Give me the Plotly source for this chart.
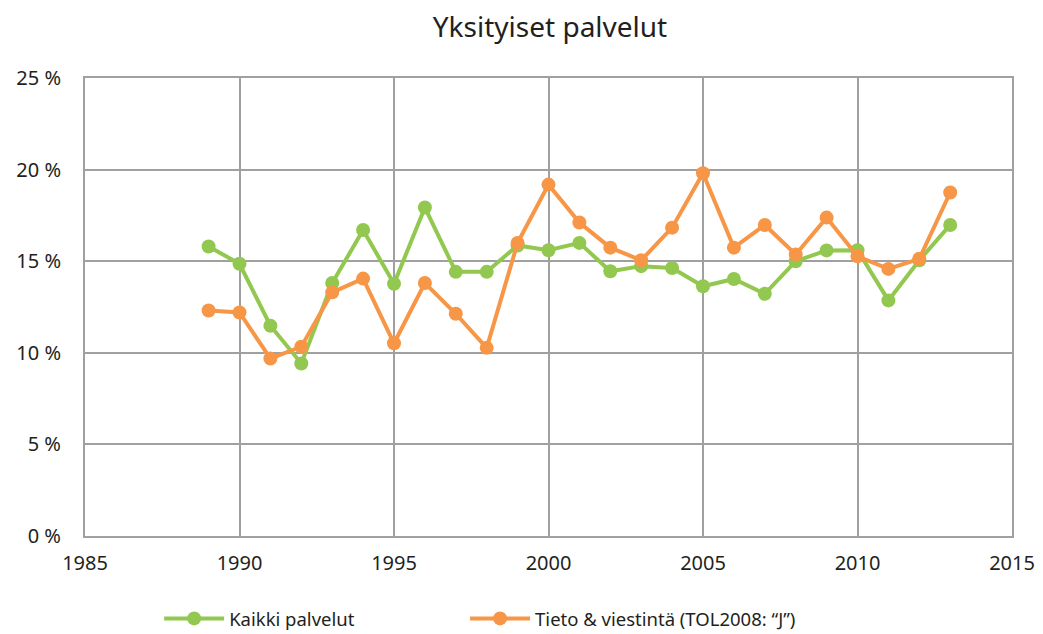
import plotly.graph_objects as go

years = list(range(1989, 2014))
kaikki = [15.8, 14.86, 11.48, 9.42, 13.81, 16.7, 13.77, 17.93, 14.42, 14.42,
          15.86, 15.6, 16.0, 14.45, 14.73, 14.63, 13.63, 14.03, 13.22, 15.0,
          15.59, 15.6, 12.86, 15.05, 16.98]
tieto = [12.31, 12.2, 9.69, 10.33, 13.3, 14.05, 10.52, 13.81, 12.13, 10.27,
         16.0, 19.18, 17.11, 15.74, 15.05, 16.83, 19.8, 15.74, 16.98, 15.37,
         17.38, 15.27, 14.58, 15.13, 18.75]
series_names = ["Kaikki palvelut", "Tieto & viestintä (TOL2008: \u201cJ\u201d)"]
colors = ["#92C84F", "#F79646"]
y_ticks = [0, 5, 10, 15, 20, 25]
y_labels = [f"{v} %" for v in y_ticks]
x_ticks = [1985, 1990, 1995, 2000, 2005, 2010, 2015]

font = "Noto Sans"
txt = "#231F20"
W, H = 1035, 626  # page adds an 8px body margin
fig = go.Figure()
for i, (name, vals, col) in enumerate(zip(series_names, [kaikki, tieto], colors)):
    fig.add_trace(go.Scatter(
        x=years, y=vals, name=name, mode="lines+markers",
        line=dict(color=col, width=4),
        marker=dict(color=col, size=14),
        legend="legend" if i == 0 else "legend2",
    ))

leg_common = dict(orientation="h", yanchor="middle", y=-0.181, xanchor="left",
                  itemwidth=60, font=dict(size=18.5, family=font, color=txt),
                  bgcolor="rgba(0,0,0,0)")
fig.update_layout(
    width=W, height=H,
    margin=dict(l=77, r=31, t=70, b=98, autoexpand=False),
    paper_bgcolor="white", plot_bgcolor="white",
    font=dict(family=font, size=20, color=txt),
    title=dict(text="Yksityiset palvelut", x=542 / W, xanchor="center", y=1 - 19 / H,
               yanchor="middle", font=dict(size=28, family=font, color=txt)),
    showlegend=True,
    legend=dict(x=0.080, **leg_common),
    legend2=dict(x=0.410, **leg_common),
    xaxis=dict(range=[1985, 2015], tickvals=x_ticks, showgrid=True, automargin=False,
               gridcolor="#A0A0A0", gridwidth=2, showline=True, linecolor="#A0A0A0",
               linewidth=2, mirror=True, ticks="", zeroline=False, ticklabelstandoff=8),
    yaxis=dict(range=[0, 25], tickvals=y_ticks, ticktext=y_labels, showgrid=True, automargin=False,
               gridcolor="#A0A0A0", gridwidth=2, showline=True, linecolor="#A0A0A0",
               linewidth=2, mirror=True, ticks="", zeroline=False, ticklabelstandoff=18),
)
fig.write_html("out.html")
